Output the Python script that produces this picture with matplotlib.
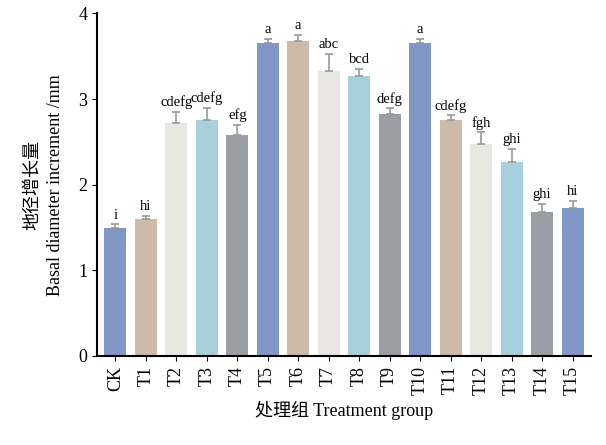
import numpy as np
import matplotlib.pyplot as plt

plt.rcParams['font.family'] = ['Liberation Serif', 'Noto Sans CJK SC']

groups = ['CK', 'T1', 'T2', 'T3', 'T4', 'T5', 'T6', 'T7', 'T8', 'T9',
          'T10', 'T11', 'T12', 'T13', 'T14', 'T15']
means = [1.50, 1.60, 2.72, 2.75, 2.58, 3.65, 3.68, 3.33, 3.27, 2.82,
         3.65, 2.76, 2.48, 2.27, 1.68, 1.73]
errs = [0.04, 0.04, 0.13, 0.15, 0.12, 0.05, 0.07, 0.20, 0.08, 0.07,
        0.05, 0.05, 0.13, 0.15, 0.10, 0.08]
letters = ['i', 'hi', 'cdefg', 'cdefg', 'efg', 'a', 'a', 'abc', 'bcd', 'defg',
           'a', 'cdefg', 'fgh', 'ghi', 'ghi', 'hi']

palette = ['#8097c6', '#cdbba7', '#e9e7e1', '#a8cfdc', '#9b9ea4']
colors = [palette[0]] + [palette[(i % 5 + 1) % 5] for i in range(15)]

fig, ax = plt.subplots(figsize=(6.06, 4.45), dpi=100)
x = np.arange(len(groups))
ax.bar(x, means, width=0.72, color=colors, yerr=[np.zeros(len(errs)), errs],
       error_kw=dict(ecolor='#999999', capsize=3, elinewidth=1.2, capthick=1.2))
for xi, m, e, t in zip(x, means, errs, letters):
    ax.text(xi, m + e + 0.03, t, ha='center', va='bottom', fontsize=10.5)

ax.set_xlim(-0.6, len(groups) - 0.4)
ax.set_ylim(0, 4)
ax.set_yticks([0, 1, 2, 3, 4])
ax.set_xticks(x)
ax.set_xticklabels(groups, rotation=90, fontsize=13)
ax.tick_params(axis='y', labelsize=13)
ax.spines['top'].set_visible(False)
ax.spines['right'].set_visible(False)
ax.spines['left'].set_linewidth(1.5)
ax.spines['bottom'].set_linewidth(1.5)
ax.set_ylabel('地径增长量\nBasal diameter increment /mm', fontsize=13,
              linespacing=1.5, labelpad=10)
ax.set_xlabel('处理组 Treatment group', fontsize=13)

fig.subplots_adjust(left=0.16, right=0.975, top=0.97, bottom=0.2)
fig.savefig('out.png', dpi=100)
